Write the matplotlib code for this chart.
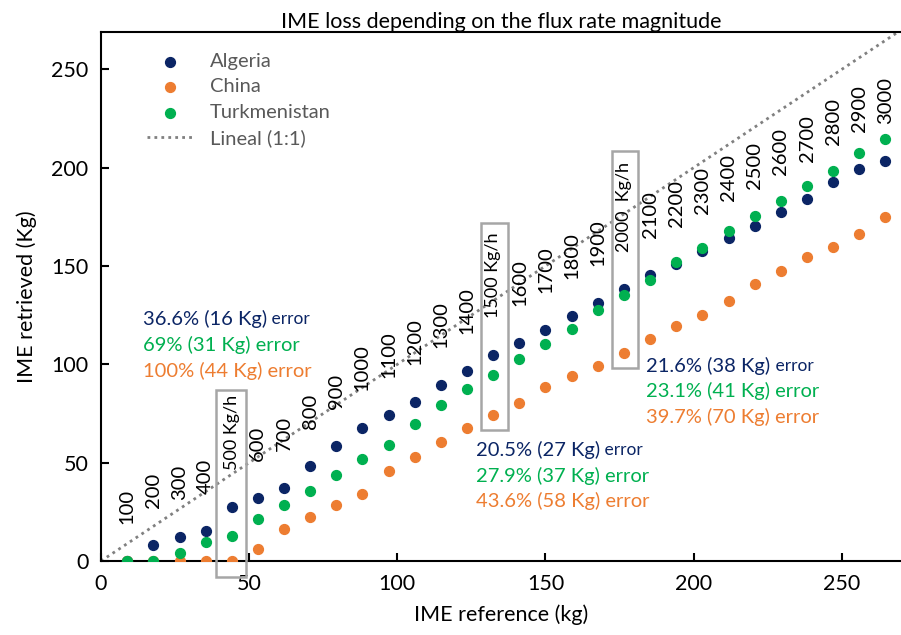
import numpy as np
import matplotlib as mpl
mpl.use('Agg')
import matplotlib.pyplot as plt
from matplotlib.patches import Rectangle

plt.rcParams['font.family'] = ['Lato', 'DejaVu Sans']

# flux rates (kg/h) and the IME reference for each one
flux = [100, 200, 300, 400, 500, 600, 700, 800, 900, 1000,
        1100, 1200, 1300, 1400, 1500, 1600, 1700, 1800, 1900, 2000,
        2100, 2200, 2300, 2400, 2500, 2600, 2700, 2800, 2900, 3000]
ime_ref = [8.8, 17.6, 26.5, 35.3, 44.1, 52.9, 61.8, 70.6, 79.4, 88.2,
           97.1, 105.9, 114.7, 123.5, 132.4, 141.2, 150.0, 158.8, 167.7, 176.5,
           185.3, 194.1, 203.0, 211.8, 220.6, 229.4, 238.3, 247.1, 255.9, 264.7]

algeria = [0, 8.0, 12.1, 15.4, 27.6, 32.2, 37.0, 48.5, 58.3, 67.7,
           74.1, 80.9, 89.4, 96.8, 104.7, 110.9, 117.6, 124.8, 131.3, 138.4,
           145.2, 151.0, 157.8, 164.0, 170.3, 177.6, 184.1, 192.5, 199.3, 203.6]
china = [0, 0, 0, 0, 0, 6.3, 16.4, 22.2, 28.5, 33.9,
         46.0, 52.8, 60.7, 67.5, 74.1, 80.4, 88.4, 94.1, 99.4, 105.9,
         112.8, 119.4, 125.3, 132.3, 140.8, 147.6, 154.6, 159.8, 166.1, 175.1]
turkmenistan = [0, 0, 4.2, 9.5, 12.9, 21.2, 28.7, 35.6, 43.8, 51.7,
                59.2, 69.7, 79.2, 87.4, 94.7, 102.6, 110.4, 118.1, 127.4, 135.4,
                142.8, 151.8, 159.4, 167.6, 175.6, 183.1, 190.8, 198.5, 207.3, 214.8]

# flux rates that get a box and a "Kg/h" label
boxed = {500: '500 Kg/h', 1500: '1500 Kg/h', 2000: '2000  Kg/h'}

# error notes: (x, y of first line, [algeria, turkmenistan, china])
notes = [
    (14.3, 123.0, ['36.6% (16 Kg)', '69% (31 Kg) error', '100% (44 Kg) error']),
    (126.4, 56.5, ['20.5% (27 Kg)', '27.9% (37 Kg) error', '43.6% (58 Kg) error']),
    (184.1, 99.4, ['21.6% (38 Kg)', '23.1% (41 Kg) error', '39.7% (70 Kg) error']),
]

c_alg = '#0b2565'
c_chn = '#ed7d31'
c_tkm = '#00b050'

fig = plt.figure(figsize=(9.01, 6.35), dpi=100)
ax = fig.add_axes([0.1121, 0.1165, 0.8879, 0.8331])

ax.scatter(ime_ref, algeria, s=50, color=c_alg, label='Algeria', zorder=3)
ax.scatter(ime_ref, china, s=50, color=c_chn, label='China', zorder=3)
ax.scatter(ime_ref, turkmenistan, s=50, color=c_tkm, label='Turkmenistan', zorder=3)
ax.plot([0, 270], [0, 270], ls=(0, (1, 1.5)), lw=2, color='#808080', label='Lineal (1:1)', zorder=2)

for f, x, y in zip(flux, ime_ref, algeria):
    if f in boxed:
        txt, fs = boxed[f], 13
    else:
        txt, fs = str(f), 14.5
    ax.annotate(txt, (x, y), xytext=(0, 37), textcoords='offset pixels',
                rotation=90, ha='center', va='bottom', fontsize=fs, color='black')

# boxes around highlighted columns (x0, x1, y0, y1)
boxes = [(38.9, 48.8, -8, 87), (128.3, 137.4, 66.7, 171.9), (172.3, 181.3, 98.1, 208.3)]
for x0, x1, y0, y1 in boxes:
    ax.add_patch(Rectangle((x0, y0), x1 - x0, y1 - y0, fill=False, ec='#a6a6a6',
                           lw=1.8, clip_on=False, zorder=4))

for x, y, lines in notes:
    for i, (t, c) in enumerate(zip(lines, [c_alg, c_tkm, c_chn])):
        tx = ax.text(x, y - i * 13.1, t, color=c, fontsize=14.5, ha='left', va='center')
        if i == 0:
            ax.annotate(' error', xy=(1, 0.5), xycoords=tx, color=c, fontsize=12.5,
                        ha='left', va='center')

ax.set_xlim(0, 270)
ax.set_ylim(0, 269)
ax.set_xticks([0, 50, 100, 150, 200, 250])
ax.set_yticks([0, 50, 100, 150, 200, 250])
ax.tick_params(direction='in', length=6, width=1.5, labelsize=15.5, pad=9)
for s in ['left', 'bottom', 'top']:
    ax.spines[s].set_linewidth(1.5)
ax.spines['right'].set_visible(False)

ax.set_title('IME loss depending on the flux rate magnitude', fontsize=15.5, pad=3)
ax.set_xlabel('IME reference (kg)', fontsize=15.5, labelpad=8)
ax.set_ylabel('IME retrieved (Kg)', fontsize=15.5, labelpad=10)

leg = ax.legend(loc='upper left', bbox_to_anchor=(0.035, 0.995), frameon=False, fontsize=14.5,
                handlelength=2.3, labelspacing=0.42, markerscale=1.0)
for t in leg.get_texts():
    t.set_color('#595959')

fig.savefig('out.png', dpi=100)
